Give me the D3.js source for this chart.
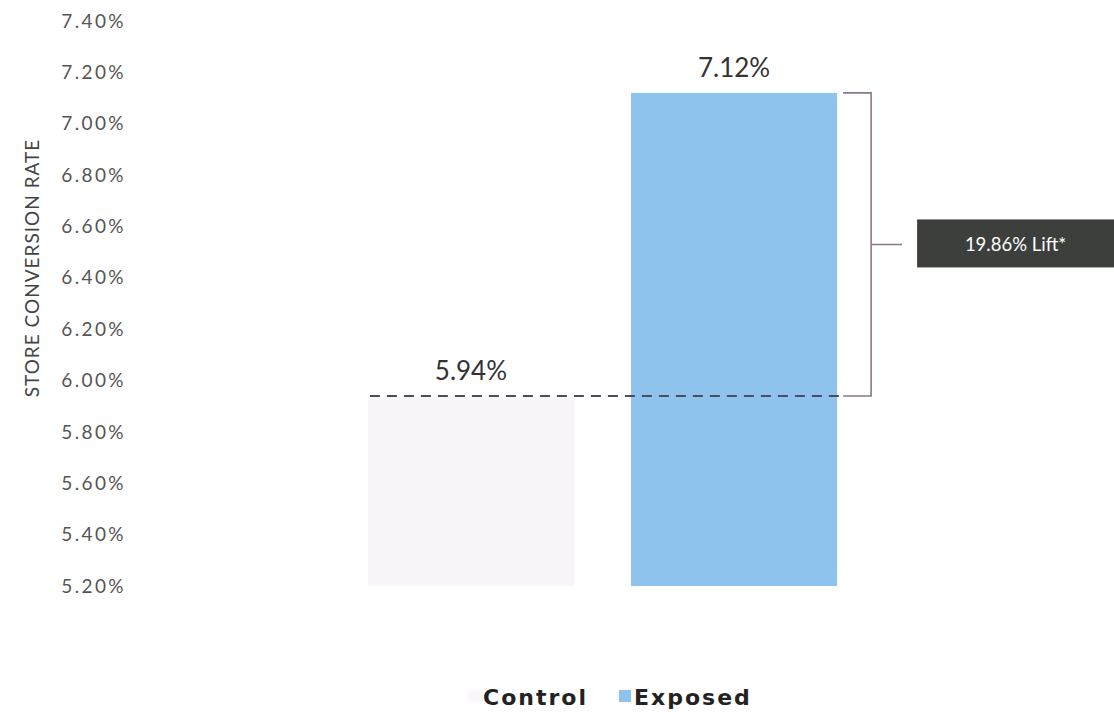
<!DOCTYPE html>
<html>
<head>
<meta charset="utf-8">
<script src="https://cdn.jsdelivr.net/npm/d3@7"></script>
<style>
  html, body { margin: 0; padding: 0; background: #fff; }
  svg { display: block; font-family: Lato, "Open Sans", sans-serif; }
</style>
</head>
<body>
<svg id="chart" width="1114" height="714"></svg>
<script>
// data
const groups = ["Control", "Exposed"];
const rates = [5.94, 7.12];
const rateLabels = ["5.94%", "7.12%"];
const yTicks = [5.2, 5.4, 5.6, 5.8, 6.0, 6.2, 6.4, 6.6, 6.8, 7.0, 7.2, 7.4];
const liftLabel = "19.86% Lift*";
const barColors = ["#f9f5f9", "#8dc3ec"];

const svg = d3.select("#chart");

const x = d3.scaleBand()
    .domain(groups)
    .range([340, 865])
    .paddingInner(0.217)
    .paddingOuter(0.106);

const y = d3.scaleLinear()
    .domain([5.2, 7.4])
    .range([586, 21]);

// y axis (labels only)
const axisY = d3.axisLeft(y)
    .tickValues(yTicks)
    .tickFormat(d => d.toFixed(2) + "%")
    .tickSize(0)
    .tickPadding(0);

const gy = svg.append("g")
    .attr("transform", "translate(126,0)")
    .call(axisY);
gy.select(".domain").remove();
gy.selectAll("text")
    .attr("font-family", "Lato, sans-serif")
    .attr("font-size", 19)
    .attr("letter-spacing", 2.4)
    .attr("fill", "#555");

svg.append("text")
    .attr("transform", "translate(39,268) rotate(-90)")
    .attr("text-anchor", "middle")
    .attr("font-size", 19)
    .attr("letter-spacing", 1)
    .attr("fill", "#444")
    .text("STORE CONVERSION RATE");

// bars
svg.selectAll(".bar")
    .data(groups)
    .enter()
    .append("rect")
    .attr("class", "bar")
    .attr("x", d => x(d))
    .attr("width", x.bandwidth())
    .attr("y", (d, i) => y(rates[i]))
    .attr("height", (d, i) => y(5.2) - y(rates[i]))
    .attr("fill", (d, i) => barColors[i]);

// value labels
svg.selectAll(".val")
    .data(groups)
    .enter()
    .append("text")
    .attr("class", "val")
    .attr("x", d => x(d) + x.bandwidth() / 2)
    .attr("y", (d, i) => y(rates[i]) - 16)
    .attr("text-anchor", "middle")
    .attr("font-size", 26)
    .attr("fill", "#333")
    .text((d, i) => rateLabels[i]);

// dashed control line
svg.append("line")
    .attr("x1", x("Control") + 2)
    .attr("x2", x("Exposed") + x.bandwidth() + 8)
    .attr("y1", y(rates[0]))
    .attr("y2", y(rates[0]))
    .attr("stroke", "#4a4f60")
    .attr("stroke-width", 2)
    .attr("stroke-dasharray", "10,7");

// bracket
const bx = x("Exposed") + x.bandwidth();
const yTop = y(rates[1]);
const yBot = y(rates[0]);
const yMid = (yTop + yBot) / 2;
svg.append("path")
    .attr("d", `M${bx + 6},${yTop} H${bx + 34} V${yBot} H${bx + 6} M${bx + 34},${yMid} H${bx + 65}`)
    .attr("fill", "none")
    .attr("stroke", "#8a7a88")
    .attr("stroke-width", 1.6);

svg.append("rect")
    .attr("x", bx + 80)
    .attr("y", yMid - 25)
    .attr("width", 1114 - bx - 80)
    .attr("height", 48)
    .attr("fill", "#3c3f3c");

svg.append("text")
    .attr("x", bx + 80 + (1114 - bx - 80) / 2)
    .attr("y", yMid)
    .attr("dy", "0.35em")
    .attr("text-anchor", "middle")
    .attr("font-size", 18.5)
    .attr("fill", "#fff")
    .text(liftLabel);

// legend
const legend = svg.append("g").attr("transform", "translate(0,697)");
const legendX = [468, 619];
groups.forEach((g, i) => {
    legend.append("rect")
        .attr("x", legendX[i])
        .attr("y", -7)
        .attr("width", 12)
        .attr("height", 12)
        .attr("fill", barColors[i]);
    legend.append("text")
        .attr("x", legendX[i] + 15)
        .attr("y", 0)
        .attr("dy", "0.35em")
        .attr("font-family", "'DejaVu Sans', sans-serif")
        .attr("font-size", 22)
        .attr("font-weight", "bold")
        .attr("letter-spacing", 2)
        .attr("fill", "#222")
        .text(g);
});
</script>
</body>
</html>
